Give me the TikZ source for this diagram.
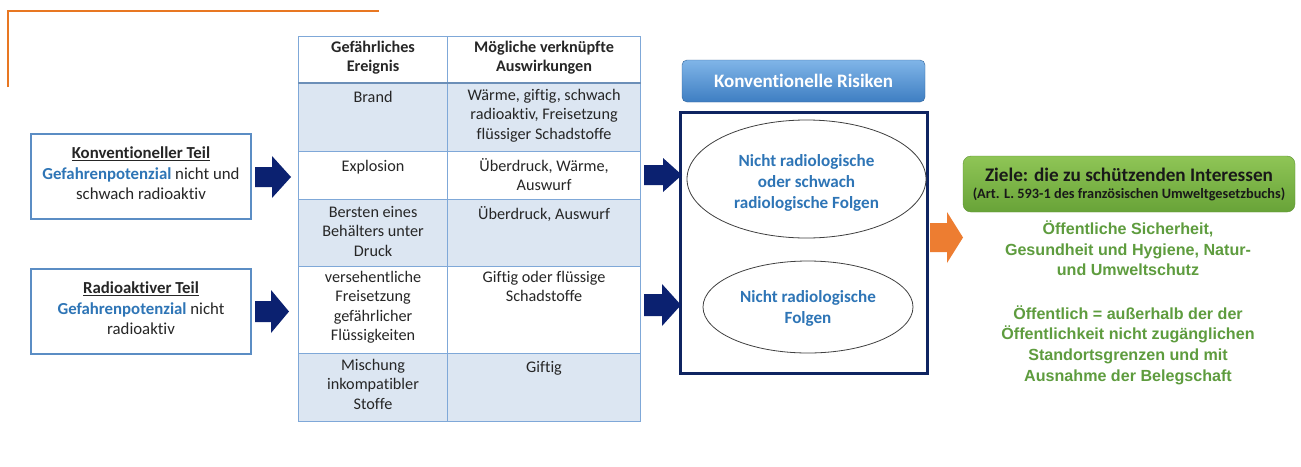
\documentclass[tikz,border=0pt]{standalone}
\usepackage{fontspec}
\setmainfont{Carlito}[Ligatures=NoCommon]
\newfontfamily\arialf{Liberation Sans}
\usetikzlibrary{shapes.geometric}
\definecolor{orangeline}{HTML}{E87722}
\definecolor{navyc}{HTML}{0B2170}
\definecolor{boxnavy}{HTML}{0F2461}
\definecolor{tline}{HTML}{7FA8D8}
\definecolor{tfill}{HTML}{DCE6F2}
\definecolor{txtblue}{HTML}{2E75B6}
\definecolor{txtdark}{HTML}{262626}
\definecolor{lboxline}{HTML}{5B8DC4}
\definecolor{orangearr}{HTML}{ED7D31}
\definecolor{greentxt}{HTML}{5E9C3E}
\definecolor{greentop}{HTML}{8FC556}
\definecolor{greenbot}{HTML}{68A338}
\definecolor{bluetop}{HTML}{80B5E8}
\definecolor{bluebot}{HTML}{3E7EC2}
\tikzset{
  cell/.style={draw=tline, line width=1.1pt, minimum width=149pt, anchor=north west, inner sep=0pt},
  cellb/.style={cell, minimum width=193pt},
  ctext/.style={anchor=north, align=center, inner sep=0pt, text=txtdark,
    font=\fontsize{16.2}{19.5}\selectfont,
    execute at begin node=\strut, execute at end node=\strut},
  lbox/.style={draw=lboxline, line width=1.1pt, minimum width=220pt, minimum height=85pt,
    align=center, inner sep=0pt, text=txtdark, font=\fontsize{16.8}{20.5}\selectfont,
    execute at begin node={\rule{0pt}{17pt}}, execute at end node=\strut},
  etext/.style={align=center, inner sep=0pt, text=txtblue, font=\bfseries\fontsize{17.1}{21}\selectfont,
    execute at begin node=\strut, execute at end node=\strut},
  gtext/.style={align=center, inner sep=0pt, text=greentxt, font=\arialf\bfseries\fontsize{16.1}{20.7}\selectfont,
    execute at begin node=\strut, execute at end node=\strut},
  oval/.style={ellipse, draw=black!75, line width=0.8pt, inner sep=0pt}
}
\begin{document}
\begin{tikzpicture}[x=1pt,y=-1pt]
\useasboundingbox[fill=white] (0,0) rectangle (1301,466);

% orange corner line
\draw[orangeline, line width=2pt] (8,87) -- (8,11) -- (379,11);

% left boxes
\node[lbox] (konv) at (141,176.5) {\underline{\textbf{Konventioneller Teil}}\\ \textcolor{txtblue}{\textbf{Gefahrenpotenzial}} nicht und\\ schwach radioaktiv};
\node[lbox] (radio) at (141,311.5) {\underline{\textbf{Radioaktiver Teil}}\\ \textcolor{txtblue}{\textbf{Gefahrenpotenzial}} nicht\\ radioaktiv};

% navy arrows to table
\fill[navyc] (255,167) -- (272,167) -- (272,156) -- (291,177) -- (272,198) -- (272,187) -- (255,187) -- cycle;
\fill[navyc] (255,301) -- (271,301) -- (271,290) -- (289,311.5) -- (271,333) -- (271,322) -- (255,322) -- cycle;

% table cells
\node[cell, minimum height=46pt] (h1) at (298,36) {};
\node[cellb, minimum height=46pt] (h2) at (447,36) {};
\node[cell, fill=tfill, minimum height=69pt] (r1a) at (298,82) {};
\node[cellb, fill=tfill, minimum height=69pt] (r1b) at (447,82) {};
\node[cell, minimum height=48pt] (r2a) at (298,151) {};
\node[cellb, minimum height=48pt] (r2b) at (447,151) {};
\node[cell, fill=tfill, minimum height=67pt] (r3a) at (298,199) {};
\node[cellb, fill=tfill, minimum height=67pt] (r3b) at (447,199) {};
\node[cell, minimum height=87pt] (r4a) at (298,266) {};
\node[cellb, minimum height=87pt] (r4b) at (447,266) {};
\node[cell, fill=tfill, minimum height=68pt] (r5a) at (298,353) {};
\node[cellb, fill=tfill, minimum height=68pt] (r5b) at (447,353) {};
\draw[tline!85!black, line width=2.2pt] (h1.south west) -- (h2.south east);

% table texts
\node[ctext, anchor=center, font=\bfseries\fontsize{16.2}{19}\selectfont] (t0a) at (h1.center) {Gefährliches\\ Ereignis};
\node[ctext, anchor=center, font=\bfseries\fontsize{16.2}{19}\selectfont] (t0b) at (h2.center) {Mögliche verknüpfte\\ Auswirkungen};
\node[ctext] (t1a) at ([yshift=-7pt]r1a.north) {Brand};
\node[ctext] (t1b) at ([yshift=-7pt]r1b.north) {Wärme, giftig, schwach\\ radioaktiv, Freisetzung\\ flüssiger Schadstoffe};
\node[ctext] (t2a) at ([yshift=-7pt]r2a.north) {Explosion};
\node[ctext] (t2b) at ([yshift=-7pt]r2b.north) {Überdruck, Wärme,\\ Auswurf};
\node[ctext] (t3a) at ([yshift=-7pt]r3a.north) {Bersten eines\\ Behälters unter\\ Druck};
\node[ctext] (t3b) at ([yshift=-7pt]r3b.north) {Überdruck, Auswurf};
\node[ctext] (t4a) at ([yshift=-5pt]r4a.north) {versehentliche\\ Freisetzung\\ gefährlicher\\ Flüssigkeiten};
\node[ctext] (t4b) at ([yshift=-5pt]r4b.north) {Giftig oder flüssige\\ Schadstoffe};
\node[ctext] (t5a) at ([yshift=-6pt]r5a.north) {Mischung\\ inkompatibler\\ Stoffe};
\node[ctext] (t5b) at ([yshift=-6pt]r5b.north) {Giftig};

% Konventionelle Risiken
\node[rounded corners=5pt, top color=bluetop, bottom color=bluebot, draw=bluebot!80!black, line width=0.4pt,
  minimum width=243pt, minimum height=42pt, text=white, font=\bfseries\fontsize{19}{22}\selectfont]
  (krh) at (803.5,81) {Konventionelle Risiken};
\node[draw=boxnavy, line width=3pt, minimum width=247pt, minimum height=261pt, inner sep=0pt] (kbox) at (803.5,242.5) {};

\node[oval, minimum width=239pt, minimum height=118pt] (e1) at (806.5,179) {};
\node[etext] (e1t) at (806.5,184.5) {Nicht radiologische\\ oder schwach\\ radiologische Folgen};
\node[oval, minimum width=210pt, minimum height=92pt] (e2) at (808,307) {};
\node[etext] (e2t) at (808,310) {Nicht radiologische\\ Folgen};

% navy arrows to box
\fill[navyc] (644,165) -- (663,165) -- (663,158) -- (682,175) -- (663,192) -- (663,185) -- (644,185) -- cycle;
\fill[navyc] (644,294) -- (662,294) -- (662,284) -- (681,305) -- (662,326) -- (662,316) -- (644,316) -- cycle;

% orange arrow
\fill[orangearr] (930,223) -- (947,223) -- (947,212) -- (963,237.5) -- (947,263) -- (947,252) -- (930,252) -- cycle;

% green header
\node[rounded corners=8pt, top color=greentop, bottom color=greenbot, draw=greenbot!90!black, line width=0.4pt,
  minimum width=332pt, minimum height=56pt, inner sep=0pt] (ziel) at (1129,184) {};
\node[inner sep=0pt, text=black!90, font=\bfseries\fontsize{19.2}{22}\selectfont] (zt1) at (1129,175) {Ziele: die zu schützenden Interessen};
\node[inner sep=0pt, text=black!90, font=\bfseries\fontsize{14.3}{16}\selectfont] (zt2) at (1129,194) {(Art. L. 593-1 des französischen Umweltgesetzbuchs)};

\node[gtext] (g1) at (1128,251.5) {Öffentliche Sicherheit,\\ Gesundheit und Hygiene, Natur-\\ und Umweltschutz};
\node[gtext] (g2) at (1128,346.5) {Öffentlich = außerhalb der der\\ Öffentlichkeit nicht zugänglichen\\ Standortsgrenzen und mit\\ Ausnahme der Belegschaft};
\end{tikzpicture}
\end{document}
